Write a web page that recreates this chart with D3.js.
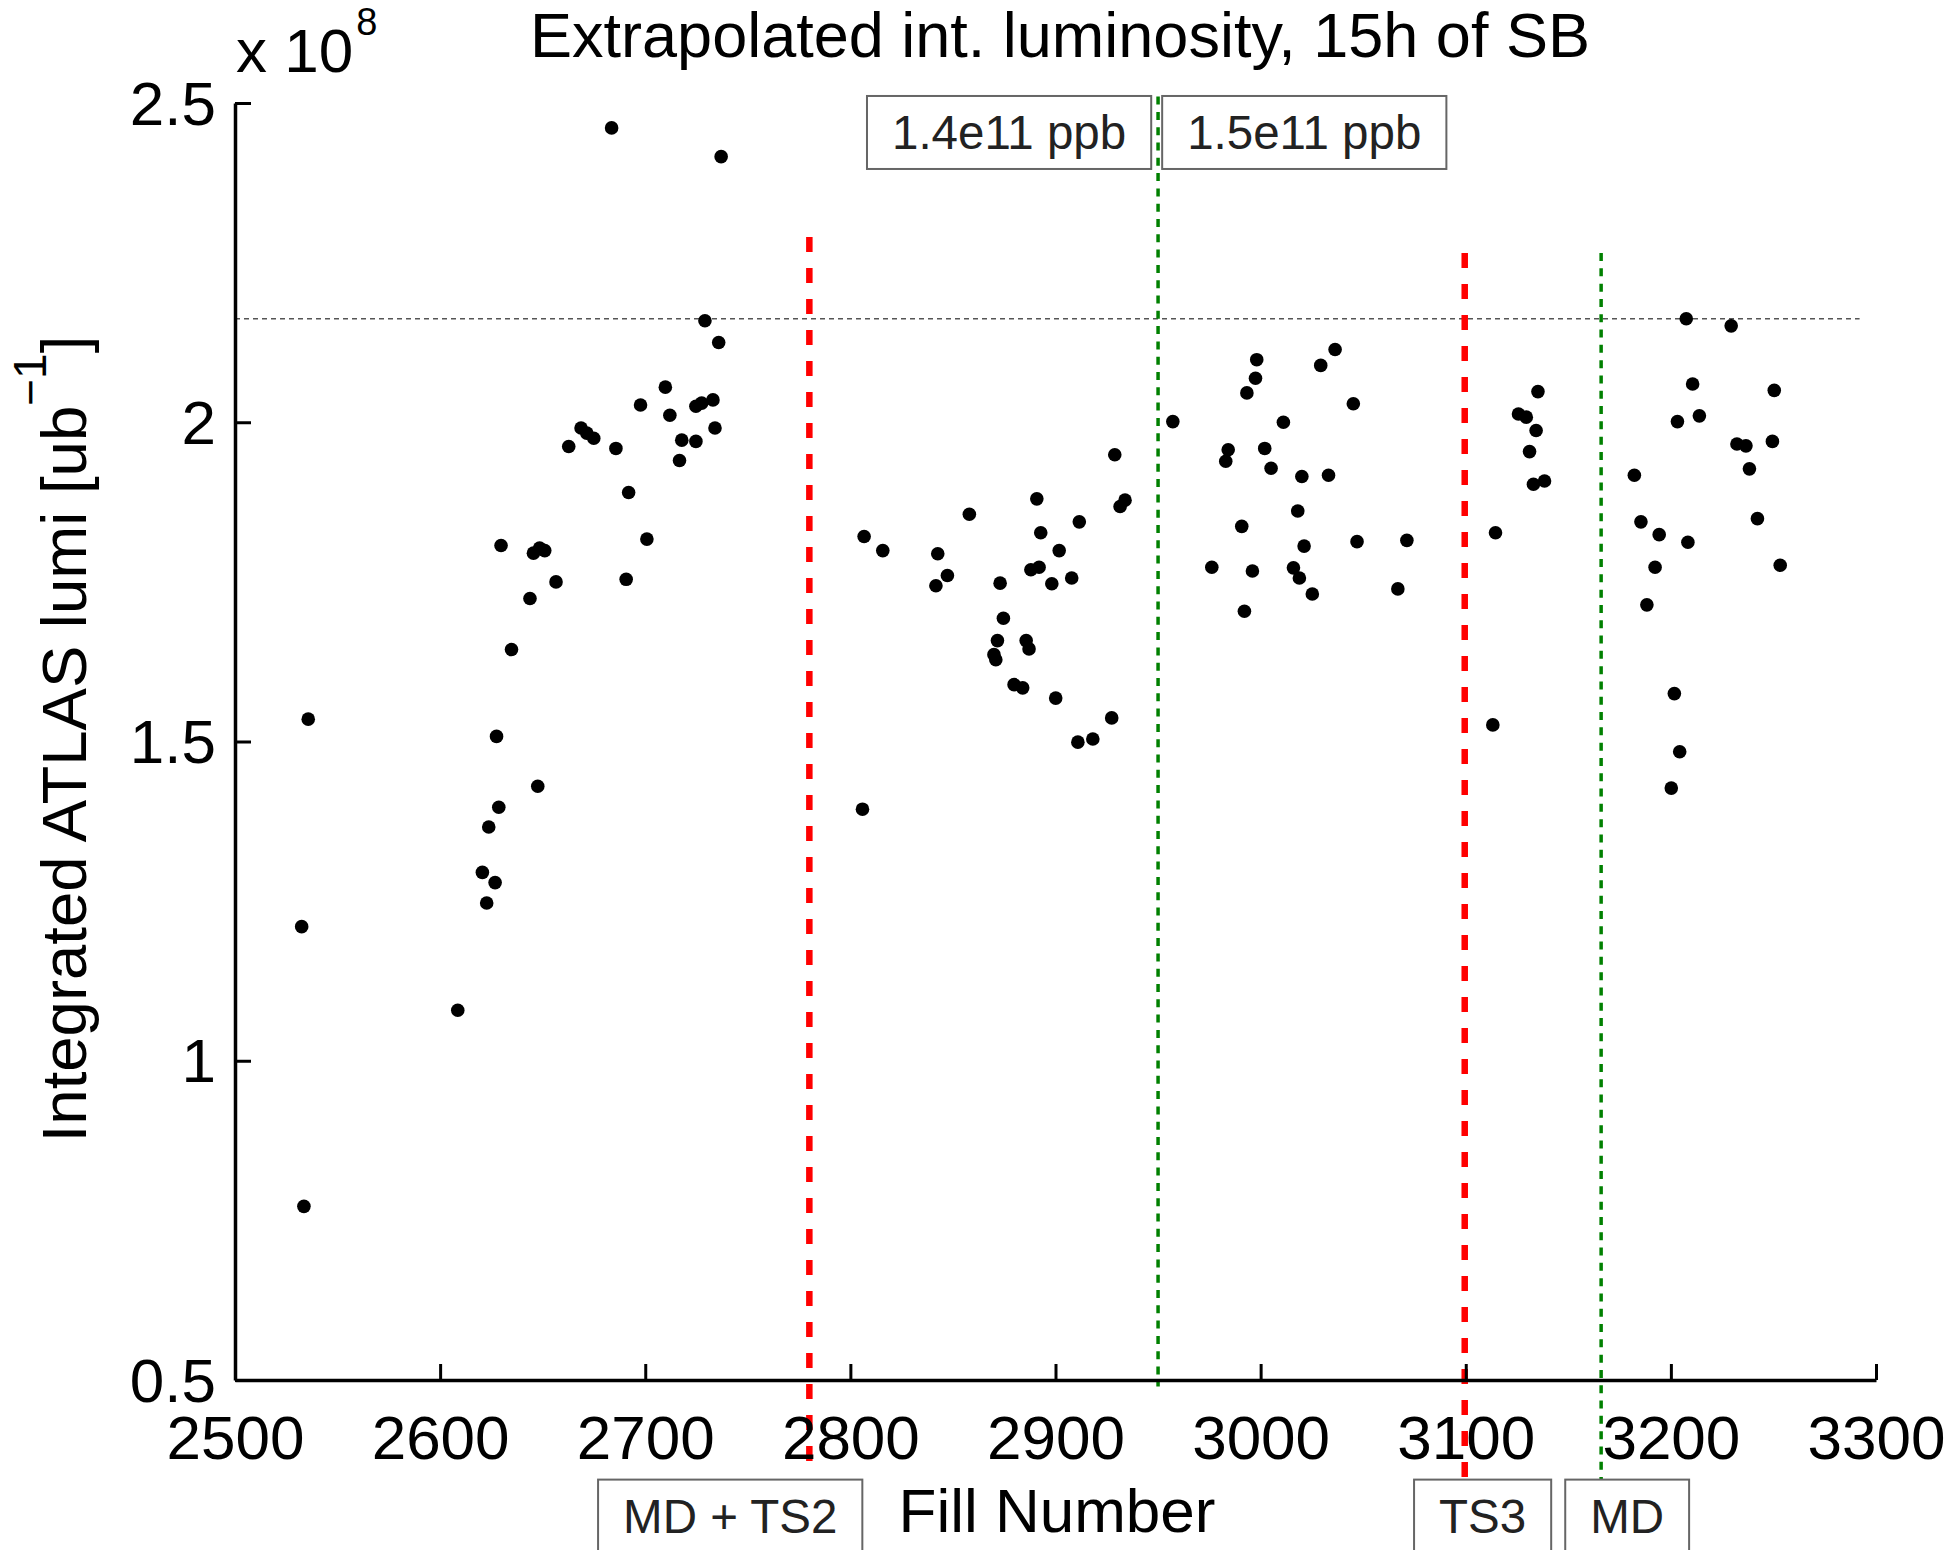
<!DOCTYPE html>
<html>
<head>
<meta charset="utf-8">
<script src="https://cdn.jsdelivr.net/npm/d3@7"></script>
<style>
  body { margin: 0; background: #fff; }
  svg { font-family: "Liberation Sans", Arial, Helvetica, sans-serif; }
</style>
</head>
<body>
<script>
// Fill numbers and extrapolated integrated lumi (units of 1e8 ub^-1)
const fills = [
  2532.5, 2533.6, 2535.7, 2608.6, 2620.6, 2622.7, 2623.7, 2626.8, 2627.5, 2628.6,
  2629.7, 2634.8, 2643.8, 2645.5, 2647.6, 2648.5, 2651.0, 2656.5, 2662.7, 2668.7,
  2671.5, 2674.9, 2683.6, 2685.7, 2690.7, 2691.9, 2697.7, 2700.8, 2709.8, 2712.0,
  2716.7, 2717.8, 2724.7, 2724.7, 2727.5, 2729.1, 2733.0, 2734.0, 2735.8, 2737.0,
  2805.9, 2806.7, 2815.8, 2841.7, 2842.6, 2847.3, 2858.0, 2870.0, 2870.9, 2871.7,
  2873.0, 2874.6, 2879.8, 2884.0, 2885.7, 2887.1, 2888.0, 2890.9, 2892.0, 2892.8,
  2898.2, 2900.1, 2901.8, 2907.9, 2910.9, 2911.6, 2918.2, 2927.4, 2928.9, 2931.5,
  2933.9,
  2957.2, 2976.2, 2983.0, 2984.2, 2990.8, 2992.1, 2993.3, 2996.0, 2997.5, 2998.1,
  3002.0, 3005.1, 3011.1, 3016.0, 3018.1, 3018.9, 3020.1, 3021.2, 3025.2, 3029.3,
  3033.1, 3036.3, 3045.2, 3047.0, 3066.9, 3071.3,
  3113.2, 3114.5, 3125.7, 3129.5, 3131.1, 3133.0, 3134.3, 3135.2, 3138.4,
  3182.2, 3185.4, 3188.3, 3192.3, 3194.3, 3200.2, 3201.7, 3203.2, 3204.3, 3207.5,
  3208.3, 3210.6, 3213.9, 3229.4, 3232.2, 3236.6, 3238.3, 3242.2, 3249.5, 3250.4,
  3253.3
];
const lumi = [
  1.210, 0.772, 1.535, 1.079, 1.295, 1.247, 1.366, 1.279, 1.508, 1.397,
  1.807, 1.644, 1.724, 1.795, 1.430, 1.803, 1.799, 1.750, 1.962, 1.991,
  1.983, 1.975, 2.461, 1.959, 1.754, 1.890, 2.027, 1.817, 2.055, 2.011,
  1.940, 1.972, 1.970, 2.025, 2.030, 2.159, 2.035, 1.991, 2.125, 2.416,
  1.394, 1.821, 1.799, 1.744, 1.794, 1.760, 1.856, 1.636, 1.628, 1.658,
  1.748, 1.693, 1.589, 1.584, 1.658, 1.645, 1.769, 1.880, 1.773, 1.827,
  1.747, 1.568, 1.799, 1.756, 1.499, 1.844, 1.504, 1.537, 1.949, 1.868,
  1.878,
  2.001, 1.773, 1.939, 1.957, 1.837, 1.704, 2.046, 1.767, 2.069, 2.098,
  1.959, 1.928, 2.000, 1.772, 1.861, 1.756, 1.915, 1.806, 1.731, 2.089,
  1.917, 2.114, 2.029, 1.813, 1.739, 1.815,
  1.526, 1.827, 2.013, 2.008, 1.954, 1.903, 1.987, 2.048, 1.908,
  1.917, 1.844, 1.714, 1.773, 1.824, 1.427, 1.575, 2.001, 1.484, 2.162,
  1.812, 2.060, 2.010, 2.151, 1.966, 1.963, 1.927, 1.849, 1.970, 2.050,
  1.776
];

const xTicks = [2500, 2600, 2700, 2800, 2900, 3000, 3100, 3200, 3300];
const yTicks = [0.5, 1, 1.5, 2, 2.5];

// reference level (dotted) and the vertical markers
const refLumi = 2.162;
const refFills = [2500, 3292];
const redFills = [2780, 3099.5];
const redFrom = [0.365, 0.30];
const redTo = [2.29, 2.265];
const greenFills = [2950, 3166];
const greenFrom = [0.49, 0.30];
const greenTo = [2.51, 2.265];

// annotation boxes: label, left edge (fill), top edge (lumi)
const boxLabels = ['1.4e11 ppb', '1.5e11 ppb', 'MD + TS2', 'TS3', 'MD'];
const boxFills = [2808.1, 2952.0, 2677.0, 3074.8, 3148.5];
const boxLumi = [2.511, 2.511, 0.344, 0.344, 0.344];

const titleText = 'Extrapolated int. luminosity, 15h of SB';

const W = 1950, H = 1550;
const svg = d3.select('body').append('svg')
  .attr('width', W)
  .attr('height', H);

const x = d3.scaleLinear().domain([2500, 3300]).range([235, 1876]);
const y = d3.scaleLinear().domain([0.5, 2.5]).range([1380, 103]);

// dotted reference line
svg.append('line')
  .attr('x1', x(refFills[0])).attr('x2', x(refFills[1]))
  .attr('y1', y(refLumi)).attr('y2', y(refLumi))
  .attr('stroke', '#555')
  .attr('stroke-width', 1.6)
  .attr('stroke-dasharray', '5,4');

// red dashed markers
svg.selectAll('line.red')
  .data(redFills)
  .join('line')
  .attr('class', 'red')
  .attr('x1', d => x(d)).attr('x2', d => x(d))
  .attr('y1', (d, i) => y(redTo[i]))
  .attr('y2', (d, i) => y(redFrom[i]))
  .attr('stroke', '#ff0000')
  .attr('stroke-width', 6.5)
  .attr('stroke-dasharray', '15,16');

// green dotted markers
svg.selectAll('line.green')
  .data(greenFills)
  .join('line')
  .attr('class', 'green')
  .attr('x1', d => x(d)).attr('x2', d => x(d))
  .attr('y1', (d, i) => y(greenTo[i]))
  .attr('y2', (d, i) => y(greenFrom[i]))
  .attr('stroke', '#008000')
  .attr('stroke-width', 3.5)
  .attr('stroke-dasharray', '8,7.3');

// data points
svg.append('g')
  .selectAll('circle')
  .data(fills)
  .join('circle')
  .attr('cx', d => x(d))
  .attr('cy', (d, i) => y(lumi[i]))
  .attr('r', 6.8)
  .attr('fill', '#000');

// axes (ticks pointing inward, MATLAB style)
const xAxis = svg.append('g')
  .attr('transform', `translate(0, ${y(0.5)})`)
  .call(d3.axisBottom(x)
    .tickValues(xTicks)
    .tickFormat(d3.format('d'))
    .tickSizeInner(-16)
    .tickSizeOuter(0)
    .tickPadding(35));

const yAxis = svg.append('g')
  .attr('transform', `translate(${x(2500)}, 0)`)
  .call(d3.axisLeft(y)
    .tickValues(yTicks)
    .tickFormat(d => String(d))
    .tickSizeInner(-16)
    .tickSizeOuter(0)
    .tickPadding(19));

[xAxis, yAxis].forEach(g => {
  g.select('.domain').attr('stroke', '#000').attr('stroke-width', 3.5);
  g.selectAll('.tick line').attr('stroke', '#000').attr('stroke-width', 3);
  g.selectAll('.tick text')
    .attr('fill', '#000')
    .style('font-size', '62px')
    .style('font-family', '"Liberation Sans", Arial, sans-serif');
});
yAxis.selectAll('.tick text').attr('dy', '0.34em');

// annotation boxes
const boxG = svg.append('g');
boxLabels.forEach((label, i) => {
  const g = boxG.append('g');
  const rect = g.append('rect');
  const txt = g.append('text')
    .attr('x', x(boxFills[i]) + 25)
    .attr('y', y(boxLumi[i]) + 53)
    .attr('fill', '#222')
    .style('font-size', '47.5px')
    .text(label);
  const tw = txt.node().getComputedTextLength();
  rect.attr('x', x(boxFills[i]))
    .attr('y', y(boxLumi[i]))
    .attr('width', tw + 50)
    .attr('height', 73)
    .attr('fill', '#fff')
    .attr('stroke', '#666')
    .attr('stroke-width', 2);
});

// title
svg.append('text')
  .attr('x', 1060)
  .attr('y', 57)
  .attr('text-anchor', 'middle')
  .style('font-size', '63px')
  .text(titleText);

// exponent label
const expo = svg.append('text')
  .attr('x', 236)
  .attr('y', 72)
  .style('font-size', '62px');
expo.append('tspan').text('x 10');
expo.append('tspan')
  .attr('dx', 3)
  .attr('dy', -37)
  .style('font-size', '38px')
  .text('8');

// x label
svg.append('text')
  .attr('x', 1057)
  .attr('y', 1532)
  .attr('text-anchor', 'middle')
  .style('font-size', '62px')
  .text('Fill Number');

// y label
const yl = svg.append('text')
  .attr('transform', 'translate(86, 739) rotate(-90)')
  .attr('text-anchor', 'middle')
  .style('font-size', '63.5px');
yl.append('tspan').text('Integrated ATLAS lumi [ub');
yl.append('tspan')
  .attr('dy', -40)
  .style('font-size', '46px')
  .text('\u22121');
yl.append('tspan')
  .attr('dy', 40)
  .text(']');
</script>
</body>
</html>
